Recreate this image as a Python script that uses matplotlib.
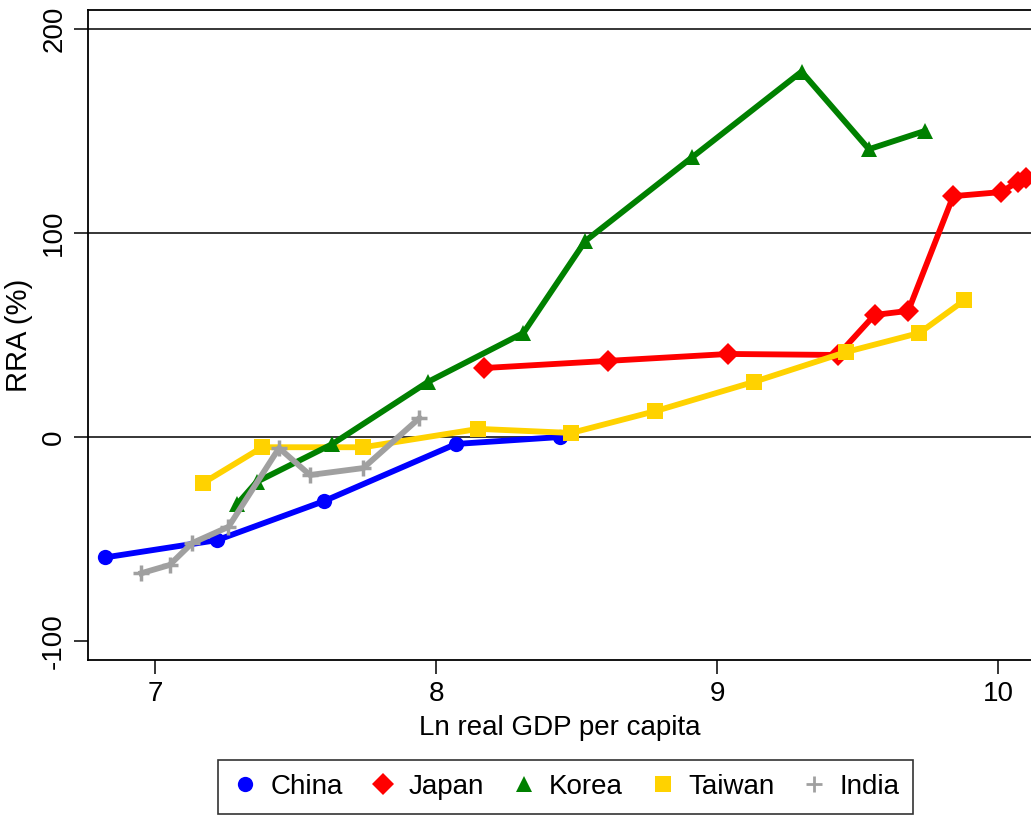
import matplotlib
matplotlib.use("Agg")
import matplotlib.pyplot as plt
from matplotlib import font_manager
from matplotlib.lines import Line2D

plt.rcParams['font.family'] = ['Liberation Sans', 'DejaVu Sans']
plt.rcParams['axes.unicode_minus'] = False

# Data (Ln real GDP per capita, RRA %)
china_x = [6.82, 7.22, 7.60, 8.07, 8.44]
china_y = [-59, -50.5, -31.4, -3.4, 0]

japan_x = [8.17, 8.61, 9.04, 9.43, 9.56, 9.68, 9.84, 10.01, 10.07, 10.10]
japan_y = [33.8, 37.3, 40.7, 40.2, 59.8, 61.8, 118, 120, 125, 127]

korea_x = [7.29, 7.36, 7.63, 7.97, 8.31, 8.53, 8.91, 9.30, 9.54, 9.74]
korea_y = [-33, -22, -3.4, 27, 51, 96, 137, 179, 141, 150]

taiwan_x = [7.17, 7.38, 7.74, 8.15, 8.48, 8.78, 9.13, 9.46, 9.72, 9.88]
taiwan_y = [-22.5, -5, -5, 4, 2, 12.7, 27, 41.7, 51, 67]

india_x = [6.95, 7.05, 7.13, 7.26, 7.44, 7.55, 7.74, 7.94]
india_y = [-66.7, -62.7, -52, -44, -5.4, -18.6, -15.2, 9.3]

series = [
    ('China', china_x, china_y, '#0000FF', 'o', 11, 2),
    ('Japan', japan_x, japan_y, '#FF0000', 'D', 11, 3),
    ('Korea', korea_x, korea_y, '#008000', '^', 12, 5),
    ('Taiwan', taiwan_x, taiwan_y, '#FFD200', 's', 11, 4),
    ('India', india_x, india_y, '#A0A0A0', '+', 12, 6),
]

# tick digits in the reference are narrow; use the narrow face if present
names = {f.name for f in font_manager.fontManager.ttflist}
if 'Liberation Sans Narrow' in names:
    tick_font, tick_size = 'Liberation Sans Narrow', 22
else:
    tick_font, tick_size = 'Liberation Sans', 20

fig = plt.figure(figsize=(10.31, 8.17), dpi=100)
ax = fig.add_axes([0.0854, 0.192, 0.9146, 0.796])

for yv in [0, 100, 200]:
    ax.axhline(yv, color='black', linewidth=1.1, zorder=1)

handles = []
for name, xs, ys, col, mk, ms, z in series:
    ax.plot(xs, ys, color=col, linewidth=4.2, marker=mk, markersize=ms,
            markeredgewidth=2.5 if mk == '+' else 0, zorder=z, clip_on=False)
    handles.append(Line2D([], [], color=col, marker=mk, linestyle='none',
                          markersize=ms, markeredgewidth=2 if mk == '+' else 0))

ax.set_xlim(6.76, 10.117)
ax.set_ylim(-109.3, 209.3)
ax.set_xticks([7, 8, 9, 10])
ax.set_yticks([-100, 0, 100, 200])
ax.tick_params(direction='out', length=10, width=1.1, pad=5)
for lbl in ax.get_xticklabels() + ax.get_yticklabels():
    lbl.set_fontfamily(tick_font)
    lbl.set_fontsize(tick_size)
for lbl in ax.get_yticklabels():
    lbl.set_rotation(90)
    lbl.set_va('center')
ax.spines['right'].set_visible(False)
for s in ['left', 'bottom', 'top']:
    ax.spines[s].set_linewidth(1.3)

ax.set_xlabel('Ln real GDP per capita', fontsize=20, labelpad=6)
ax.set_ylabel('RRA (%)', fontsize=21, labelpad=6)

leg = fig.legend(handles, [s[0] for s in series], loc='upper center',
                 bbox_to_anchor=(0.5485, 0.0698), ncol=5, fontsize=20,
                 frameon=True, fancybox=False, edgecolor='black',
                 handletextpad=0.4, columnspacing=0.95, handlelength=1.0,
                 borderpad=0.5, borderaxespad=0)
leg.get_frame().set_linewidth(1.2)

fig.savefig('out.png', dpi=100)
